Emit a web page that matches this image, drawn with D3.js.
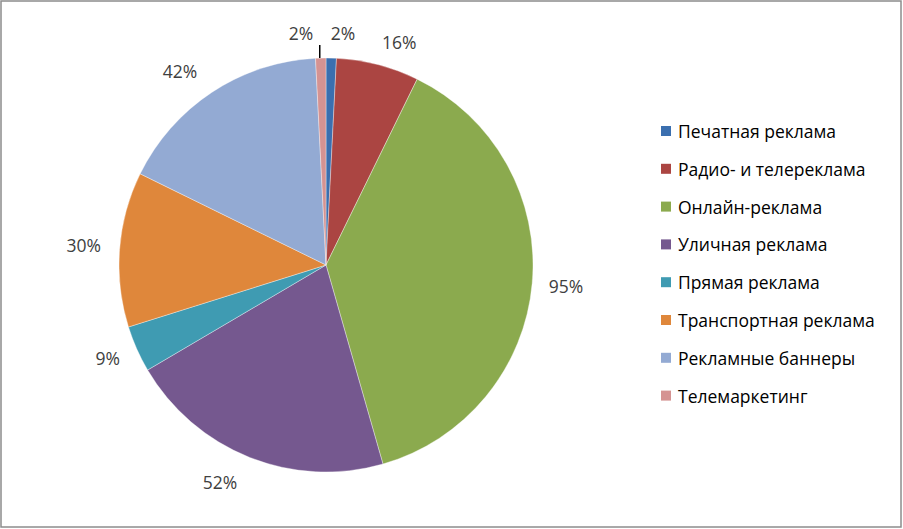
<!DOCTYPE html>
<html><head><meta charset="utf-8">
<script src="https://cdn.jsdelivr.net/npm/d3@7"></script>
<style>
html,body{margin:0;padding:0;background:#fff;}
svg{display:block;font-family:"Open Sans","Noto Sans",sans-serif;}
</style></head>
<body>
<svg id="c" width="903" height="529"></svg>
<script>
const categories = ["Печатная реклама","Радио- и телереклама","Онлайн-реклама","Уличная реклама","Прямая реклама","Транспортная реклама","Рекламные баннеры","Телемаркетинг"];
const values = [2,16,95,52,9,30,42,2];
const valueLabels = ["2%","16%","95%","52%","9%","30%","42%","2%"];
const colors = ["#3B6FAF","#AB4542","#8BAA4E","#75588F","#3F9BB2","#DF873B","#93AAD3","#D59392"];

const svg = d3.select("#c");
svg.append("rect").attr("x",1).attr("y",1).attr("width",900).attr("height",526)
  .attr("fill","#fff").attr("stroke","#8c8c8c").attr("stroke-width",1.5);

const cx = 326, cy = 265, R = 207;
const g = svg.append("g").attr("transform",`translate(${cx},${cy})`);
const pie = d3.pie().sort(null).value(d=>d)(values);
const arc = d3.arc().innerRadius(0).outerRadius(R);
g.selectAll("path").data(pie).enter().append("path")
  .attr("d",arc).attr("fill",(d,i)=>colors[i])
  .attr("stroke","#fff").attr("stroke-width",0.6).attr("stroke-opacity",0.6);

// labels outside
const labelArc = d3.arc().innerRadius(240).outerRadius(240);
const offsets = [[11,8],[13,9],[1,0],[-17,-6],[1,-4],[-3,-2],[-14,6],[-19,8]];
g.selectAll("text.lbl").data(pie).enter().append("text")
  .attr("class","lbl")
  .attr("x",(d,i)=>labelArc.centroid(d)[0]+offsets[i][0])
  .attr("y",(d,i)=>labelArc.centroid(d)[1]+offsets[i][1])
  .attr("text-anchor","middle").attr("dominant-baseline","central")
  .attr("font-size",17.5).attr("fill","#404040")
  .text((d,i)=>valueLabels[i]);

// leader line for telemarketing
const tm = pie[7];
const p1 = d3.arc().innerRadius(R).outerRadius(R).centroid(tm);
const p2 = d3.arc().innerRadius(R+13).outerRadius(R+13).centroid(tm);
g.append("line").attr("x1",p1[0]-1).attr("y1",p1[1]).attr("x2",p1[0]-1).attr("y2",p2[1])
  .attr("stroke","#000").attr("stroke-width",1.5);

// legend
const lg = svg.append("g").attr("transform","translate(661,126)");
const items = lg.selectAll("g").data(categories).enter().append("g")
  .attr("transform",(d,i)=>`translate(0,${i*37.8})`);
items.append("rect").attr("width",10).attr("height",10).attr("fill",(d,i)=>colors[i]);
items.append("text").attr("x",17).attr("y",5).attr("dominant-baseline","central")
  .attr("font-size",17.5).attr("fill","#000").text(d=>d);
</script>
</body></html>
